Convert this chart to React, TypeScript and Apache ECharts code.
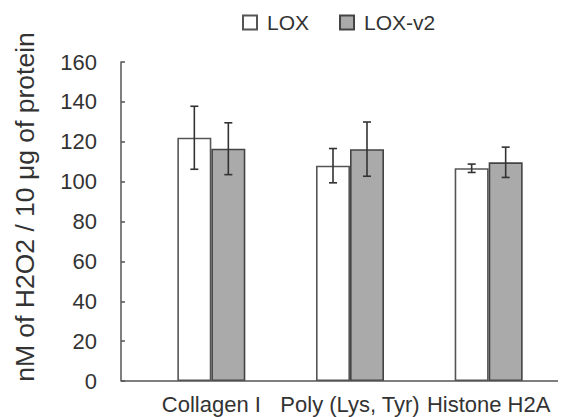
import React, { useEffect, useRef } from "react";
import * as echarts from "echarts";

const categories = ["Collagen I", "Poly (Lys, Tyr)", "Histone H2A"];
const seriesNames = ["LOX", "LOX-v2"];
const loxValues = [122, 108, 106.7];
const loxErrors = [15.8, 8.6, 2.1];
const loxV2Values = [116.5, 116.3, 109.7];
const loxV2Errors = [13, 13.6, 7.6];
const yTicks = { min: 0, max: 160, interval: 20 };
const yTitle = "nM of H2O2 / 10 μg of protein";

const W = 562;
const H = 417;
const GRID = { left: 142, right: 4, top: 62, bottom: 36 };
const AXIS_OFFSET = 21;
const BAR_W = 34;
const FONT = "'Liberation Sans', Arial, sans-serif";

export default function App() {
  const ref = useRef<HTMLDivElement>(null);
  useEffect(() => {
    if (!ref.current) return;
    const chart = echarts.init(ref.current, null, { renderer: "svg" });

    const errData = (vals: number[], errs: number[], s: number) =>
      vals.map((v, i) => [i, v - errs[i], v + errs[i], s]);

    const renderErr = (params: any, api: any) => {
      const i = api.value(0);
      const lo = api.value(1);
      const hi = api.value(2);
      const s = api.value(3);
      const pLo = api.coord([i, lo]);
      const pHi = api.coord([i, hi]);
      const x = pLo[0] + (s === 0 ? -BAR_W / 2 : BAR_W / 2);
      const cap = 4;
      const style = { stroke: "#333", lineWidth: 1.6 };
      return {
        type: "group",
        children: [
          { type: "line", shape: { x1: x, y1: pLo[1], x2: x, y2: pHi[1] }, style },
          { type: "line", shape: { x1: x - cap, y1: pLo[1], x2: x + cap, y2: pLo[1] }, style },
          { type: "line", shape: { x1: x - cap, y1: pHi[1], x2: x + cap, y2: pHi[1] }, style },
        ],
      };
    };

    chart.setOption({
      animation: false,
      backgroundColor: "#fff",
      grid: GRID,
      legend: {
        data: seriesNames,
        top: 7,
        left: 237,
        itemWidth: 14,
        itemHeight: 14,
        itemGap: 30,
        textStyle: { fontFamily: FONT, fontSize: 21, color: "#333", padding: [0, 0, 0, 5] },
        icon: "rect",
      },
      xAxis: {
        type: "category",
        data: categories,
        axisLine: { show: false },
        axisTick: { show: false },
        axisLabel: { fontFamily: FONT, fontSize: 22, color: "#333", margin: 12, interval: 0 },
      },
      yAxis: {
        type: "value",
        min: yTicks.min,
        max: yTicks.max,
        interval: yTicks.interval,
        offset: AXIS_OFFSET,
        splitLine: { show: false },
        axisLine: { show: true, lineStyle: { color: "#555", width: 1.5 } },
        axisTick: { show: true, inside: true, length: 4, lineStyle: { color: "#555", width: 1.5 } },
        axisLabel: { fontFamily: FONT, fontSize: 22, color: "#333", margin: 24 },
      },
      graphic: [
        {
          type: "line",
          shape: {
            x1: GRID.left - AXIS_OFFSET,
            y1: H - GRID.bottom,
            x2: W - GRID.right,
            y2: H - GRID.bottom,
          },
          style: { stroke: "#555", lineWidth: 1.5 },
          z: 10,
        },
        {
          type: "text",
          x: 25,
          y: 207,
          rotation: Math.PI / 2,
          style: {
            text: yTitle,
            fontFamily: FONT,
            fontSize: 26.5,
            fill: "#333",
            align: "center",
            verticalAlign: "middle",
          },
        },
      ],
      series: [
        {
          name: seriesNames[0],
          type: "bar",
          data: loxValues,
          barWidth: BAR_W,
          barGap: "0%",
          itemStyle: { color: "#fff", borderColor: "#555", borderWidth: 1.6 },
        },
        {
          name: seriesNames[1],
          type: "bar",
          data: loxV2Values,
          barWidth: BAR_W,
          barGap: "0%",
          itemStyle: { color: "#aaa", borderColor: "#444", borderWidth: 1.6 },
        },
        {
          type: "custom",
          renderItem: renderErr,
          data: errData(loxValues, loxErrors, 0),
          encode: { x: 0, y: [1, 2] },
          z: 5,
        },
        {
          type: "custom",
          renderItem: renderErr,
          data: errData(loxV2Values, loxV2Errors, 1),
          encode: { x: 0, y: [1, 2] },
          z: 5,
        },
      ],
    });
    return () => chart.dispose();
  }, []);
  return (
    <div
      ref={ref}
      style={{ position: "fixed", left: 0, top: 0, width: W, height: H, background: "#fff" }}
    />
  );
}
